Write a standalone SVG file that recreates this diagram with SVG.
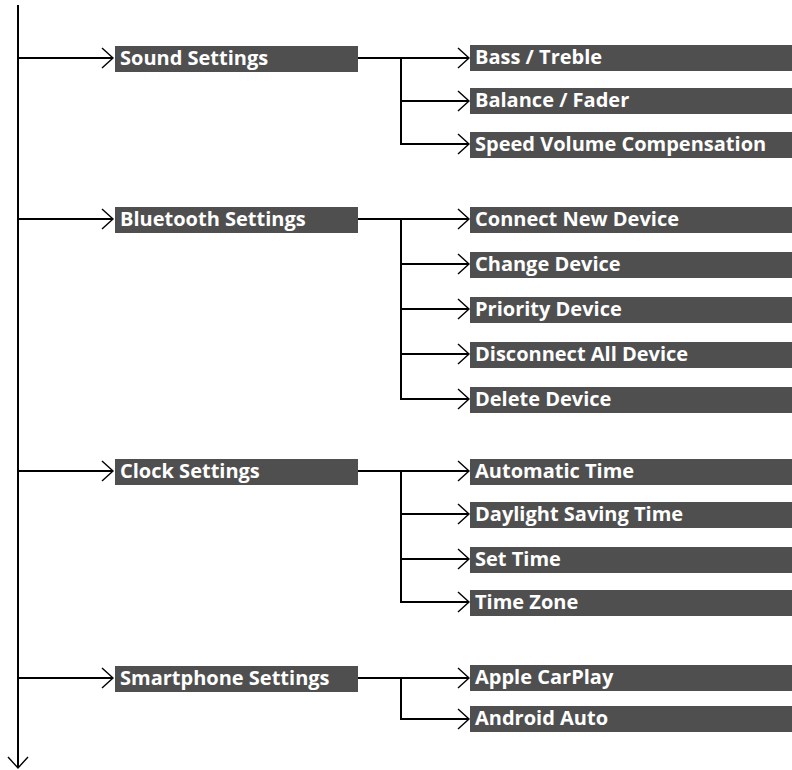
<svg xmlns="http://www.w3.org/2000/svg" width="792" height="770" viewBox="0 0 792 770">
<style>
.box{fill:#4f4f4f}
.t{font-family:"Open Sans","Liberation Sans",sans-serif;font-weight:bold;font-size:20px;fill:#fff}
.ln{fill:none;stroke:#000;stroke-width:2}
.ah{fill:none;stroke:#000;stroke-width:1.4}
</style>
<defs>
<marker id="chev" markerUnits="userSpaceOnUse" markerWidth="14" markerHeight="24" viewBox="-12 -11 14 22" refX="0" refY="0" orient="auto">
<path class="ah" d="M-11,-10 L0,0 L-11,10"/>
</marker>
</defs>
<g id="connectors">
<path class="ln" d="M18,5 V768" marker-end="url(#chev)"/>
<path class="ln" d="M18,58 H113" marker-end="url(#chev)"/>
<path class="ln" d="M18,219 H113" marker-end="url(#chev)"/>
<path class="ln" d="M18,471 H113" marker-end="url(#chev)"/>
<path class="ln" d="M18,678 H113" marker-end="url(#chev)"/>
<path class="ln" d="M358,58 H469" marker-end="url(#chev)"/>
<path class="ln" d="M401,58 V144 H469" marker-end="url(#chev)"/>
<path class="ln" d="M401,101 H469" marker-end="url(#chev)"/>
<path class="ln" d="M358,219 H469" marker-end="url(#chev)"/>
<path class="ln" d="M401,219 V399 H469" marker-end="url(#chev)"/>
<path class="ln" d="M401,264 H469" marker-end="url(#chev)"/>
<path class="ln" d="M401,309 H469" marker-end="url(#chev)"/>
<path class="ln" d="M401,354 H469" marker-end="url(#chev)"/>
<path class="ln" d="M358,471 H469" marker-end="url(#chev)"/>
<path class="ln" d="M401,471 V602 H469" marker-end="url(#chev)"/>
<path class="ln" d="M401,514 H469" marker-end="url(#chev)"/>
<path class="ln" d="M401,559 H469" marker-end="url(#chev)"/>
<path class="ln" d="M358,678 H469" marker-end="url(#chev)"/>
<path class="ln" d="M401,678 V719 H469" marker-end="url(#chev)"/>
</g>
<g id="sound"><rect class="box" x="115" y="46" width="243" height="26"/><text class="t" x="120" y="65">Sound Settings</text></g>
<g id="bass"><rect class="box" x="470" y="45" width="322" height="26"/><text class="t" x="475" y="64">Bass / Treble</text></g>
<g id="balance"><rect class="box" x="470" y="88" width="322" height="26"/><text class="t" x="475" y="107">Balance / Fader</text></g>
<g id="speed"><rect class="box" x="470" y="132" width="322" height="26"/><text class="t" x="475" y="151">Speed Volume Compensation</text></g>
<g id="bluetooth"><rect class="box" x="115" y="207" width="243" height="26"/><text class="t" x="120" y="226">Bluetooth Settings</text></g>
<g id="connect"><rect class="box" x="470" y="207" width="322" height="26"/><text class="t" x="475" y="226">Connect New Device</text></g>
<g id="change"><rect class="box" x="470" y="252" width="322" height="26"/><text class="t" x="475" y="271">Change Device</text></g>
<g id="priority"><rect class="box" x="470" y="297" width="322" height="26"/><text class="t" x="475" y="316">Priority Device</text></g>
<g id="disconnect"><rect class="box" x="470" y="342" width="322" height="26"/><text class="t" x="475" y="361">Disconnect All Device</text></g>
<g id="delete"><rect class="box" x="470" y="387" width="322" height="26"/><text class="t" x="475" y="406">Delete Device</text></g>
<g id="clock"><rect class="box" x="115" y="459" width="243" height="26"/><text class="t" x="120" y="478">Clock Settings</text></g>
<g id="automatic"><rect class="box" x="470" y="459" width="322" height="26"/><text class="t" x="475" y="478">Automatic Time</text></g>
<g id="daylight"><rect class="box" x="470" y="502" width="322" height="26"/><text class="t" x="475" y="521">Daylight Saving Time</text></g>
<g id="settime"><rect class="box" x="470" y="547" width="322" height="26"/><text class="t" x="475" y="566">Set Time</text></g>
<g id="timezone"><rect class="box" x="470" y="590" width="322" height="26"/><text class="t" x="475" y="609">Time Zone</text></g>
<g id="smartphone"><rect class="box" x="115" y="666" width="243" height="26"/><text class="t" x="120" y="685">Smartphone Settings</text></g>
<g id="carplay"><rect class="box" x="470" y="665" width="322" height="26"/><text class="t" x="475" y="684">Apple CarPlay</text></g>
<g id="android"><rect class="box" x="470" y="706" width="322" height="26"/><text class="t" x="475" y="725">Android Auto</text></g>
</svg>
